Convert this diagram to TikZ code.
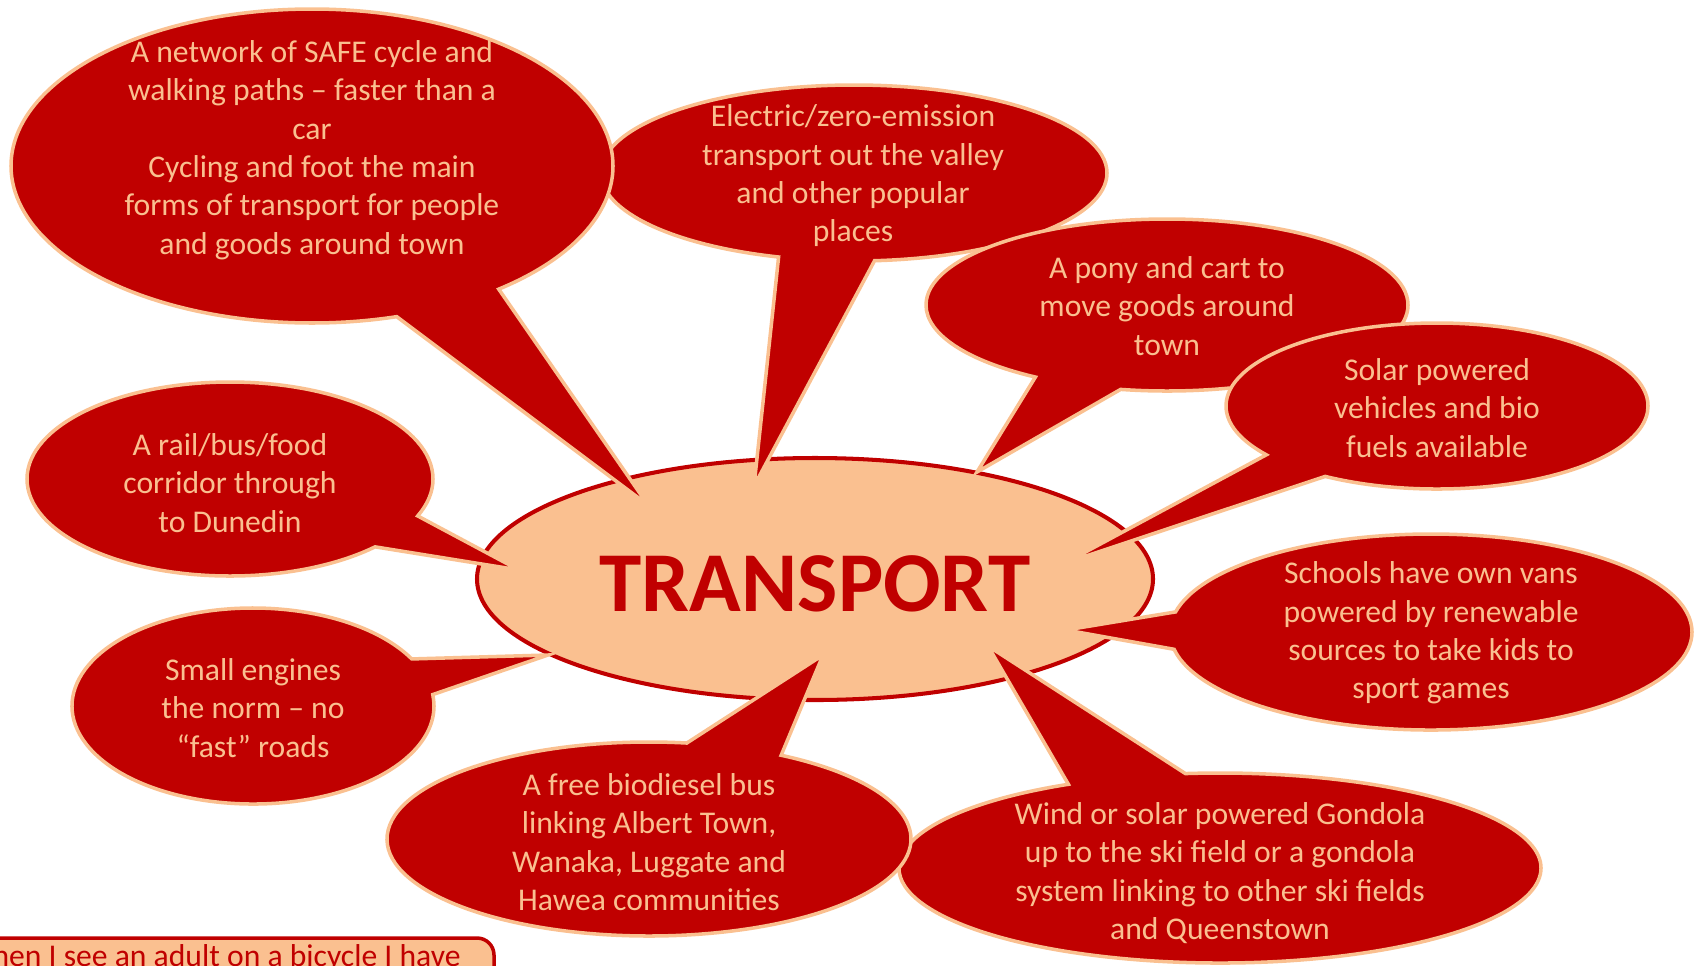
\documentclass[tikz,border=0pt]{standalone}
\usepackage{fontspec}
\setmainfont{Carlito}
\usetikzlibrary{shapes.geometric,shapes.callouts}
\definecolor{darkred}{RGB}{192,0,0}
\definecolor{peach}{RGB}{250,192,144}
\tikzset{
  bubble/.style={ellipse callout, fill=darkred, draw=peach, line width=2pt,
    inner sep=0pt, callout pointer arc=22},
  bubbletext/.style={text=peach, align=center, font=\fontsize{18}{21.8}\selectfont}
}
\begin{document}
\begin{tikzpicture}
      \useasboundingbox (0,0) rectangle (34.04,-19.30);
      \clip (0,0) rectangle (34.04,-19.30);
      % Centre ellipse
      \node[ellipse, fill=peach, draw=darkred, line width=2.3pt,
        minimum width=13.52cm, minimum height=4.84cm] (hub) at (16.30,-11.58) {};
      \node[text=darkred, font=\bfseries\fontsize{48.5}{58}\selectfont]
        (hubtext) at (16.30,-11.68) {TRANSPORT};
      % Upper bubbles
      \node[bubble, minimum width=10.12cm, minimum height=3.52cm,
        callout absolute pointer={(15.08,-9.72)}] (zero) at (17.08,-3.46) {};
      \node[bubbletext] (zerotext) at (17.06,-3.52)
        {Electric/zero-emission\\transport out the valley\\and other popular\\places};
      \node[bubble, minimum width=12.04cm, minimum height=6.28cm,
        callout absolute pointer={(12.96,-10.10)}] (paths) at (6.24,-3.32) {};
      \node[bubbletext] (pathstext) at (6.24,-3.00)
        {A network of SAFE cycle and\\walking paths -- faster than a\\car\\
         Cycling and foot the main\\forms of transport for people\\and goods around town};
      \node[bubble, minimum width=9.64cm, minimum height=3.44cm,
        callout absolute pointer={(19.54,-9.44)}] (pony) at (23.34,-6.10) {};
      \node[bubbletext] (ponytext) at (23.34,-6.12)
        {A pony and cart to\\move goods around\\town};
      \node[bubble, minimum width=8.44cm, minimum height=3.32cm,
        callout absolute pointer={(21.30,-11.26)}] (solar) at (28.74,-8.12) {};
      \node[bubbletext] (solartext) at (28.74,-8.16)
        {Solar powered\\vehicles and bio\\fuels available};
      % Left bubbles
      \node[bubble, minimum width=8.12cm, minimum height=3.88cm,
        callout absolute pointer={(10.38,-11.40)}] (rail) at (4.60,-9.58) {};
      \node[bubbletext] (railtext) at (4.60,-9.66)
        {A rail/bus/food\\corridor through\\to Dunedin};
      \node[bubble, minimum width=7.24cm, minimum height=3.92cm,
        callout absolute pointer={(10.96,-13.10)}] (engines) at (5.06,-14.12) {};
      \node[bubbletext] (enginestext) at (5.06,-14.16)
        {Small engines\\the norm -- no\\``fast'' roads};
      % Lower and right bubbles
      \node[bubble, minimum width=10.44cm, minimum height=3.92cm,
        callout absolute pointer={(21.32,-12.60)}] (vans) at (28.62,-12.64) {};
      \node[bubbletext] (vanstext) at (28.62,-12.66)
        {Schools have own vans\\powered by renewable\\sources to take kids to\\sport games};
      \node[bubble, minimum width=12.84cm, minimum height=3.80cm,
        callout absolute pointer={(19.76,-12.92)}] (gondola) at (24.40,-17.36) {};
      \node[bubbletext] (gondolatext) at (24.40,-17.46)
        {Wind or solar powered Gondola\\up to the ski field or a gondola\\
         system linking to other ski fields\\and Queenstown};
      \node[bubble, minimum width=10.48cm, minimum height=3.88cm,
        callout absolute pointer={(16.46,-13.10)}] (bus) at (12.98,-16.78) {};
      \node[bubbletext] (bustext) at (12.98,-16.84)
        {A free biodiesel bus\\linking Albert Town,\\Wanaka, Luggate and\\Hawea communities};
      % Note box, cut at the bottom
      \draw[darkred, fill=peach, line width=2pt, rounded corners=0.34cm]
        (-1,-18.76) rectangle (9.88,-20);
      \node[anchor=base east, text=darkred, font=\fontsize{18}{21.8}\selectfont,
        inner sep=0pt] (note) at (9.22,-19.32) {When I see an adult on a bicycle I have};
\end{tikzpicture}
\end{document}
